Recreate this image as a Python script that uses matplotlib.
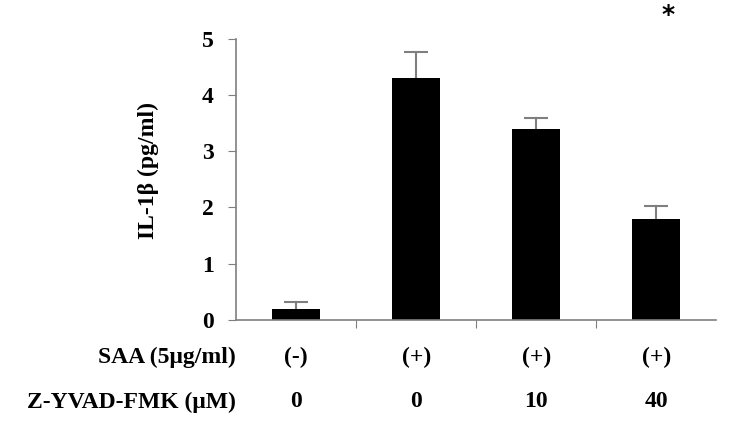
import matplotlib.pyplot as plt

# data
groups = ["ctrl", "SAA", "SAA+10", "SAA+40"]
il1b = [0.2, 4.3, 3.4, 1.8]
il1b_err = [0.12, 0.47, 0.2, 0.22]
saa_labels = ["(-)", "(+)", "(+)", "(+)"]
zyvad_labels = ["0", "0", "10", "40"]
yticks = [0, 1, 2, 3, 4, 5]

plt.rcParams["font.family"] = ["Liberation Serif", "DejaVu Serif"]
plt.rcParams["font.weight"] = "bold"
fs = 17

fig = plt.figure(figsize=(7.4, 4.22), dpi=100)
ax = fig.add_axes([0.319, 0.242, 0.649, 0.666])

x = list(range(len(groups)))
ax.bar(x, il1b, width=0.4, color="black", zorder=2)
_, caps, _ = ax.errorbar(x, il1b, yerr=[[0] * len(il1b_err), il1b_err], fmt="none",
                         ecolor="#7f7f7f", elinewidth=1.5, capsize=8.5,
                         capthick=1.5, zorder=1)
# only the upper cap is drawn in the original
caps[0].set_visible(False)

ax.set_xlim(-0.5, 3.5)
ax.set_ylim(0, 5)
ax.set_yticks(yticks)
ax.set_yticklabels([str(t) for t in yticks], fontsize=fs, fontweight="bold")
ax.set_xticks([0.5, 1.5, 2.5])
ax.set_xticklabels([])
ax.tick_params(axis="y", direction="out", length=6, color="#7f7f7f", pad=10)
ax.tick_params(axis="x", direction="out", length=6, color="#7f7f7f")

for side in ["top", "right"]:
    ax.spines[side].set_visible(False)
for side in ["left", "bottom"]:
    ax.spines[side].set_color("#7f7f7f")
    ax.spines[side].set_linewidth(1.2)

ax.set_ylabel("IL-1β (pg/ml)", fontsize=fs, fontweight="bold", va="center")
ax.yaxis.set_label_coords(-0.183, 0.53)

# row labels under the axis
for xi, s, z in zip(x, saa_labels, zyvad_labels):
    ax.text(xi, -0.66, s, ha="center", va="center", fontsize=fs,
            fontweight="bold", clip_on=False)
    ax.text(xi, -1.46, z, ha="center", va="center", fontsize=fs,
            fontweight="bold", clip_on=False)
ax.text(-0.5, -0.66, "SAA (5μg/ml)", ha="right", va="center", fontsize=fs,
        fontweight="bold", clip_on=False)
ax.text(-0.5, -1.46, "Z-YVAD-FMK (μM)", ha="right", va="center", fontsize=fs,
        fontweight="bold", clip_on=False)

# significance marker
ax.text(3.1, 5.42, "*", ha="center", va="center", fontsize=18,
        family="DejaVu Sans", clip_on=False)

fig.savefig("out.png", dpi=100)
